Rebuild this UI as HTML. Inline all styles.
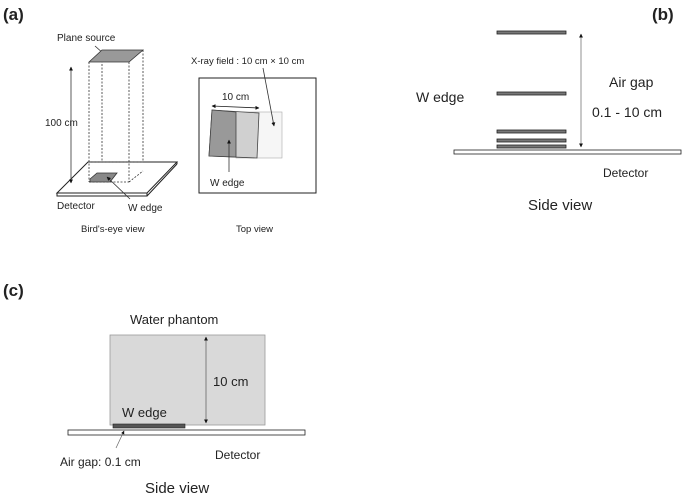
<!DOCTYPE html>
<html><head><style>
body{margin:0;background:#fff;}
svg text{font-family:"Liberation Sans",Arial,sans-serif;fill:#222;}
</style></head><body>
<svg width="685" height="494" viewBox="0 0 685 494" xmlns="http://www.w3.org/2000/svg">
<defs>
<marker id="a" viewBox="0 0 10 10" refX="9" refY="5" markerWidth="5" markerHeight="5" orient="auto-start-reverse"><path d="M0,0L10,5L0,10z" fill="#111"/></marker>
</defs>
<!-- (a) -->
<text x="3" y="20" font-size="17" font-weight="bold">(a)</text>
<text x="57" y="41" font-size="10">Plane source</text>
<line x1="95" y1="46" x2="104" y2="54" stroke="#333" stroke-width="0.8"/>
<!-- detector plate -->
<polygon points="88,162 177,162 147,193 57,193" fill="#fff" stroke="#222" stroke-width="1"/>
<polygon points="57,193 147,193 147,196 57,196" fill="#fff" stroke="#222" stroke-width="1"/>
<line x1="147" y1="196" x2="177" y2="164" stroke="#222"/>
<line x1="177" y1="162" x2="177" y2="164" stroke="#222"/>
<!-- box -->
<g stroke="#333" stroke-width="0.8" stroke-dasharray="2,1.5" fill="none">
<line x1="89" y1="62" x2="89" y2="182"/>
<line x1="129" y1="62" x2="129" y2="182"/>
<line x1="102" y1="50" x2="102" y2="162"/>
<line x1="143" y1="50" x2="143" y2="162"/>
<line x1="89" y1="182" x2="129" y2="182"/>
<line x1="129" y1="182" x2="143" y2="171"/>
<line x1="89" y1="162" x2="143" y2="162"/>
</g>
<polygon points="89,62 102,50 143,50 129,62" fill="#999" stroke="#333" stroke-width="0.8"/>
<polygon points="90,179 97,173 117,173 110,182 90,182" fill="#888" stroke="#333" stroke-width="0.8"/>
<line x1="71" y1="67" x2="71" y2="183" stroke="#333" stroke-width="0.8" marker-start="url(#a)" marker-end="url(#a)"/>
<text x="45" y="126" font-size="10">100 cm</text>
<line x1="130" y1="199" x2="107" y2="177" stroke="#333" stroke-width="0.8" marker-end="url(#a)"/>
<text x="57" y="209" font-size="10">Detector</text>
<text x="128" y="211" font-size="10">W edge</text>
<text x="81" y="232" font-size="9.5">Bird's-eye view</text>
<text x="236" y="232" font-size="9.5">Top view</text>
<!-- top view -->
<text x="191" y="64" font-size="9.5">X-ray field : 10 cm × 10 cm</text>
<rect x="199" y="78" width="117" height="115" fill="#fff" stroke="#222" stroke-width="1"/>
<rect x="236" y="112" width="46" height="46" fill="#f6f6f6" stroke="#aaa" stroke-width="0.6"/>
<polygon points="212,110 259,113 257,158 209,156" fill="#d0d0d0" stroke="#444" stroke-width="0.8"/>
<polygon points="212,110 236,112 236,157 209,156" fill="#999" stroke="#444" stroke-width="0.8"/>
<line x1="212" y1="106" x2="259" y2="108" stroke="#222" stroke-width="0.8" marker-start="url(#a)" marker-end="url(#a)"/>
<text x="222" y="100" font-size="10">10 cm</text>
<line x1="263" y1="68" x2="274" y2="126" stroke="#333" stroke-width="0.8" marker-end="url(#a)"/>
<line x1="229" y1="172" x2="229" y2="140" stroke="#333" stroke-width="0.8" marker-end="url(#a)"/>
<text x="210" y="186" font-size="10">W edge</text>
<!-- (b) -->
<text x="652" y="20" font-size="17" font-weight="bold">(b)</text>
<g fill="#777" stroke="#222" stroke-width="0.8">
<rect x="497" y="31" width="69" height="3"/>
<rect x="497" y="92" width="69" height="3"/>
<rect x="497" y="130" width="69" height="3"/>
<rect x="497" y="139" width="69" height="3"/>
<rect x="497" y="145" width="69" height="3"/>
</g>
<rect x="454" y="150" width="227" height="4" fill="#fff" stroke="#222" stroke-width="0.8"/>
<line x1="581" y1="34" x2="581" y2="147" stroke="#777" stroke-width="0.8" marker-start="url(#a)" marker-end="url(#a)"/>
<text x="416" y="102" font-size="14">W edge</text>
<text x="609" y="87" font-size="14">Air gap</text>
<text x="592" y="117" font-size="14">0.1 - 10 cm</text>
<text x="603" y="177" font-size="12">Detector</text>
<text x="528" y="210" font-size="15">Side view</text>
<!-- (c) -->
<text x="3" y="296" font-size="17" font-weight="bold">(c)</text>
<text x="130" y="324" font-size="13">Water phantom</text>
<rect x="110" y="335" width="155" height="90" fill="#d9d9d9" stroke="#999" stroke-width="0.8"/>
<line x1="206" y1="337" x2="206" y2="423" stroke="#666" stroke-width="0.8" marker-start="url(#a)" marker-end="url(#a)"/>
<text x="213" y="386" font-size="13">10 cm</text>
<text x="122" y="417" font-size="13">W edge</text>
<rect x="113" y="424" width="72" height="4" fill="#555" stroke="#222" stroke-width="0.6"/>
<rect x="68" y="430" width="237" height="5" fill="#fff" stroke="#222" stroke-width="0.8"/>
<line x1="116" y1="448" x2="124" y2="431" stroke="#666" stroke-width="0.7" marker-end="url(#a)"/>
<text x="60" y="466" font-size="12">Air gap: 0.1 cm</text>
<text x="215" y="459" font-size="12">Detector</text>
<text x="145" y="493" font-size="15">Side view</text>
</svg>
</body></html>
